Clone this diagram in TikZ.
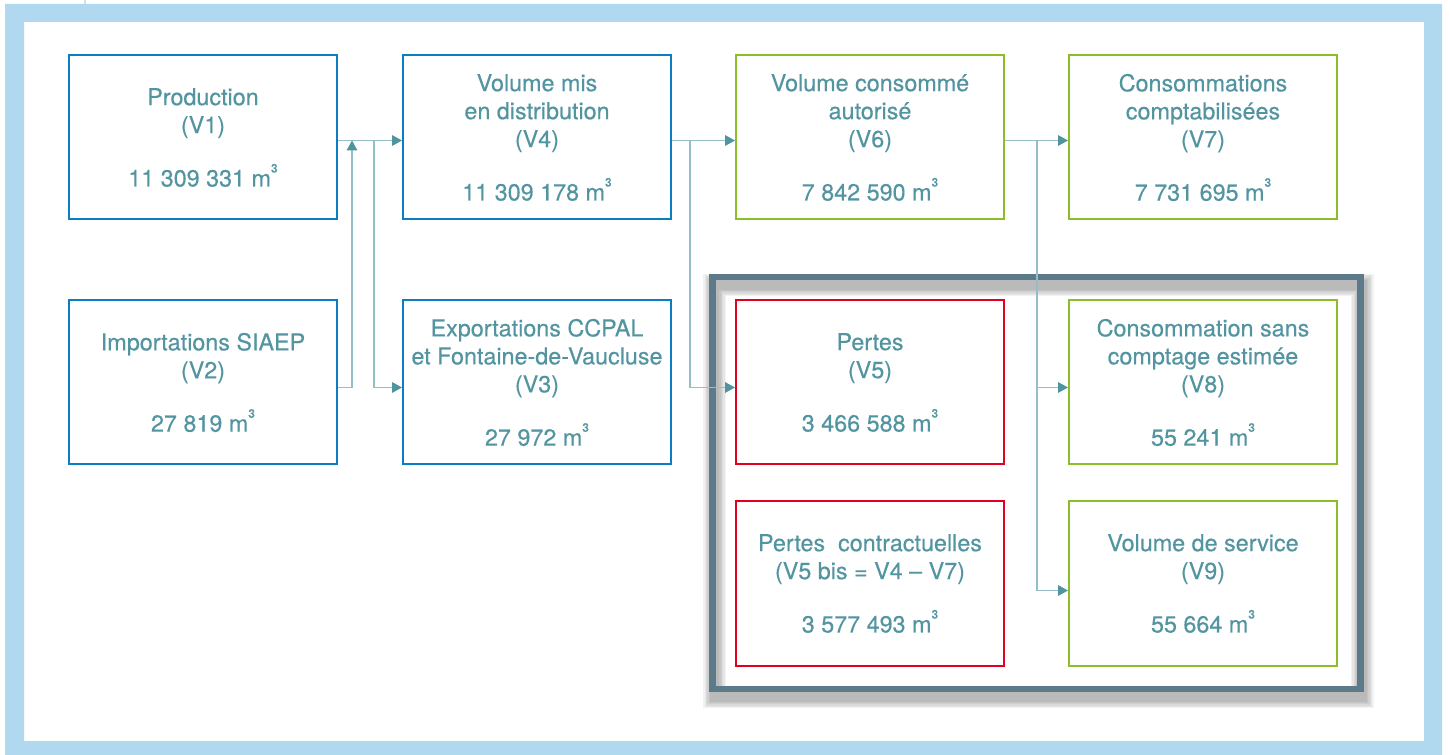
\documentclass[tikz,border=0pt]{standalone}
\usepackage{fontspec}
\setmainfont[FakeBold=0.35]{TeX Gyre Heros}
\usetikzlibrary{arrows.meta,positioning,fit}
\definecolor{bandblue}{HTML}{B0D8EE}
\definecolor{boxblue}{HTML}{0A7DC3}
\definecolor{boxgreen}{HTML}{8CBE28}
\definecolor{boxred}{HTML}{E3001E}
\definecolor{framec}{HTML}{5C7A8A}
\definecolor{tealtxt}{HTML}{5294A0}
\definecolor{linkc}{HTML}{96BEC8}
\definecolor{tipc}{HTML}{5094A0}
\newcommand{\mcube}{m\raisebox{0.6em}{\fontsize{9}{9}\selectfont 3}}

\begin{document}
\begin{tikzpicture}[x=0.75pt,y=-0.75pt,
  node distance=59.25pt and 48pt,
  vol/.style={draw,line width=1.5pt,minimum width=201pt,minimum height=123pt,inner sep=2pt,
    align=center,text=tealtxt,font=\fontsize{17.5}{21}\selectfont},
  prod/.style={vol,draw=boxblue},
  cons/.style={vol,draw=boxgreen},
  loss/.style={vol,draw=boxred},
  conn/.style={draw=linkc,line width=0.9pt,-{Triangle[length=7.5pt,width=8pt,color=tipc]}},
  grp/.style={draw=framec,line width=4.9pt}]
  \useasboundingbox (0,0) rectangle (1450,755);
  % outer band
  \fill[bandblue,even odd rule] (5,4) rectangle (1442,755) (24,22) rectangle (1424,741);
  \draw[bandblue!70,line width=1.5pt] (84.5,0) -- (84.5,4);
  % volumes
  \node[prod] (v1) at (203,137.5) {Production\\(V1)\\[19pt]11 309 331 \mcube};
  \node[prod,right=of v1] (v4) {Volume mis\\en distribution\\(V4)\\[19pt]11 309 178 \mcube};
  \node[cons,right=47.25pt of v4] (v6) {Volume consommé\\autorisé\\(V6)\\[19pt]7 842 590 \mcube};
  \node[cons,right=47.25pt of v6] (v7) {Consommations\\comptabilisées\\(V7)\\[19pt]7 731 695 \mcube};
  \node[prod,below=of v1] (v2) {Importations SIAEP\\(V2)\\[19pt]27 819 \mcube};
  \node[prod,below=of v4] (v3) {Exportations CCPAL\\et Fontaine-de-Vaucluse\\(V3)\\[19pt]27 972 \mcube};
  \node[loss,below=of v6] (v5) {Pertes\\(V5)\\[19pt]3 466 588 \mcube};
  \node[cons,below=of v7] (v8) {Consommation sans\\comptage estimée\\(V8)\\[19pt]55 241 \mcube};
  \node[loss,below=26.25pt of v5] (v5b) {Pertes\ \ contractuelles\\(V5 bis = V4 – V7)\\[19pt]3 577 493 \mcube};
  \node[cons,below=26.25pt of v8] (v9) {Volume de service\\(V9)\\[19pt]55 664 \mcube};
  % losses group frame
  \node[fit=(v5)(v9),inner sep=16.8pt,outer sep=0pt] (grp) {};
  \foreach \i [evaluate=\i as \lw using 4.9+2*\i] in {1,...,6}
    \draw[black,opacity=0.05,line width=\lw pt]
      ([shift={(1.5pt,-6pt)}]grp.north west) rectangle ([shift={(1.5pt,-6pt)}]grp.south east);
  \draw[grp] (grp.north west) rectangle (grp.south east);
  % flows
  \draw[conn] ([yshift=-2.25pt]v1.east) -- ([yshift=-2.25pt]v4.west);
  \draw[conn] ([yshift=-3.75pt]v2.east) -| ([xshift=10.5pt,yshift=-2.25pt]v1.east);
  \draw[conn] ([xshift=27pt,yshift=-2.25pt]v1.east) |- ([yshift=-3.75pt]v3.west);
  \draw[conn] ([yshift=-2.25pt]v4.east) -- ([yshift=-2.25pt]v6.west);
  \draw[conn] ([xshift=13.5pt,yshift=-2.25pt]v4.east) |- ([yshift=-3.75pt]v5.west);
  \draw[conn] ([yshift=-2.25pt]v6.east) -- ([yshift=-2.25pt]v7.west);
  \draw[conn] ([xshift=24pt,yshift=-2.25pt]v6.east) |- ([yshift=-3.75pt]v8.west);
  \draw[conn] ([xshift=24pt,yshift=-2.25pt]v6.east) |- ([yshift=-5.25pt]v9.west);
\end{tikzpicture}
\end{document}
